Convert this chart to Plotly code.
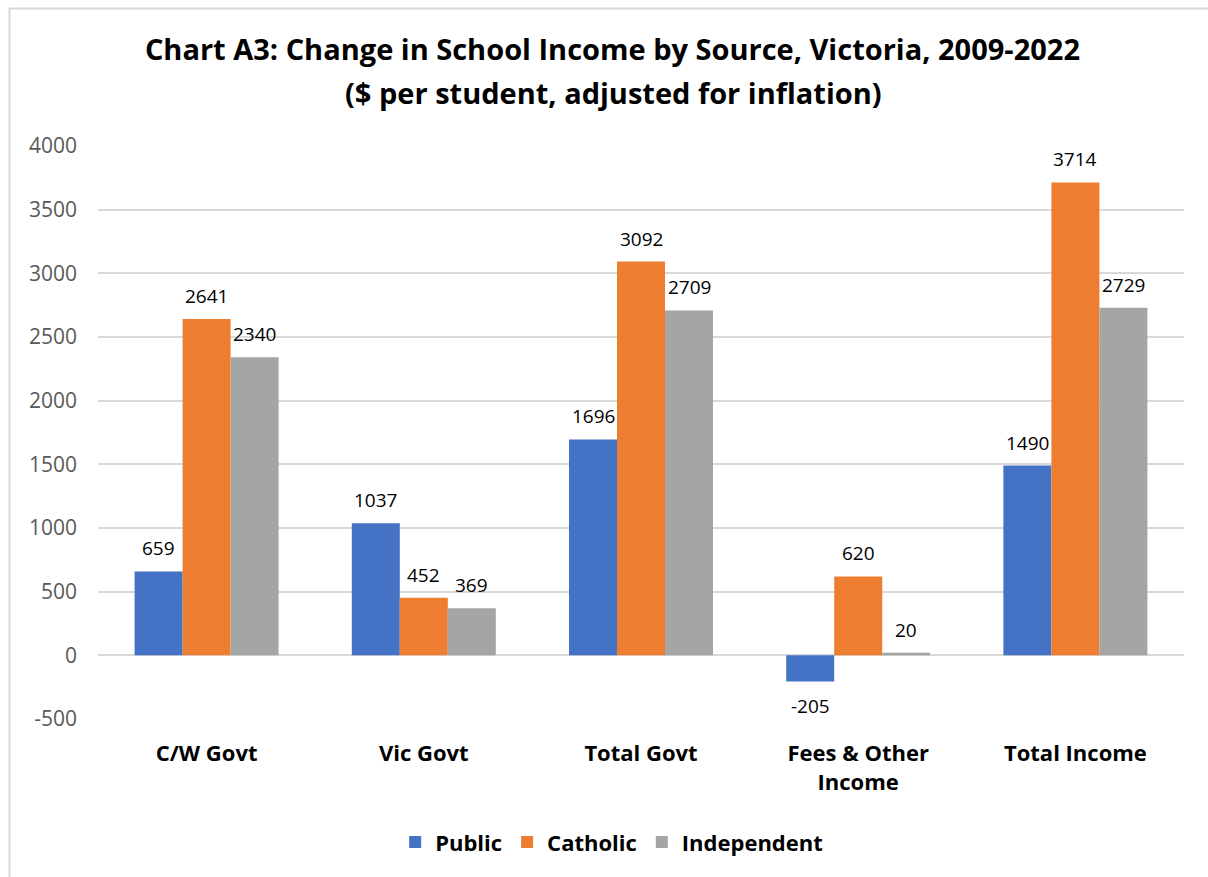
import plotly.graph_objects as go

# Change in school income per student, Victoria 2009-2022 (inflation adjusted)
categories = ["C/W Govt", "Vic Govt", "Total Govt", "Fees & Other<br>Income", "Total Income"]
public = [659, 1037, 1696, -205, 1490]
catholic = [2641, 452, 3092, 620, 3714]
independent = [2340, 369, 2709, 20, 2729]

series = [
    ("Public", public, "#4472C4"),
    ("Catholic", catholic, "#ED7D31"),
    ("Independent", independent, "#A5A5A5"),
]

y_ticks = [-500, 0, 500, 1000, 1500, 2000, 2500, 3000, 3500, 4000]

title_line1 = "Chart A3: Change in School Income by Source, Victoria, 2009-2022"
title_line2 = "($ per student, adjusted for inflation)"

FONT = "Open Sans"
BARGAP = 0.337

fig = go.Figure()
for name, vals, color in series:
    fig.add_trace(go.Bar(
        name=name, x=categories, y=vals,
        marker=dict(color=color, line=dict(width=0)),
    ))

# value labels sit a little clear of each bar end
bar_w = (1 - BARGAP) / len(series)
annotations = []
for j, (name, vals, color) in enumerate(series):
    offset = (j - (len(series) - 1) / 2) * bar_w
    for i, v in enumerate(vals):
        annotations.append(dict(
            x=i + offset, y=v, xref="x", yref="y",
            text=str(v), showarrow=False,
            yanchor="middle", yshift=23 if v >= 0 else -25,
            font=dict(family=FONT, size=19, color="#000000"),
        ))

# second title line, spaced a little wider than the default line height
annotations.append(dict(
    text=title_line2, showarrow=False,
    xref="paper", yref="paper", x=0.475, y=1.0942,
    xanchor="center", yanchor="middle",
    font=dict(family=FONT, size=29, color="#000000", weight="bold"),
))

fig.update_layout(
    width=1208, height=877,
    margin=dict(l=98, r=24, t=146, b=158),
    paper_bgcolor="white", plot_bgcolor="white",
    barmode="group", bargap=BARGAP, bargroupgap=0,
    title=dict(
        text=title_line1,
        x=0.507, xanchor="center", y=0.943, yanchor="middle",
        font=dict(family=FONT, size=29, color="#000000", weight="bold"),
    ),
    xaxis=dict(
        type="category", showgrid=False, showline=False, zeroline=False,
        ticks="", tickfont=dict(family=FONT, size=22, color="#000000", weight="bold"),
        ticklabelstandoff=19,
    ),
    yaxis=dict(
        range=[-500, 4000], tickvals=y_ticks, ticktext=[str(t) for t in y_ticks],
        showgrid=True, gridcolor="#d9d9d9", gridwidth=1.5,
        zeroline=False, showline=False, ticks="",
        tickfont=dict(family=FONT, size=21, color="#595959"),
        ticklabelstandoff=20,
    ),
    legend=dict(
        orientation="h", x=0.473, xanchor="center", y=-0.215, yanchor="middle",
        font=dict(family=FONT, size=22, color="#000000", weight="bold"),
        itemwidth=30, traceorder="normal",
    ),
    annotations=annotations,
    shapes=[dict(
        type="rect", xref="paper", yref="paper",
        x0=-0.0815, x1=1.04, y0=-0.30, y1=1.24,
        line=dict(color="#d9d9d9", width=2), layer="below",
    )],
)

fig.write_html("out.html")
